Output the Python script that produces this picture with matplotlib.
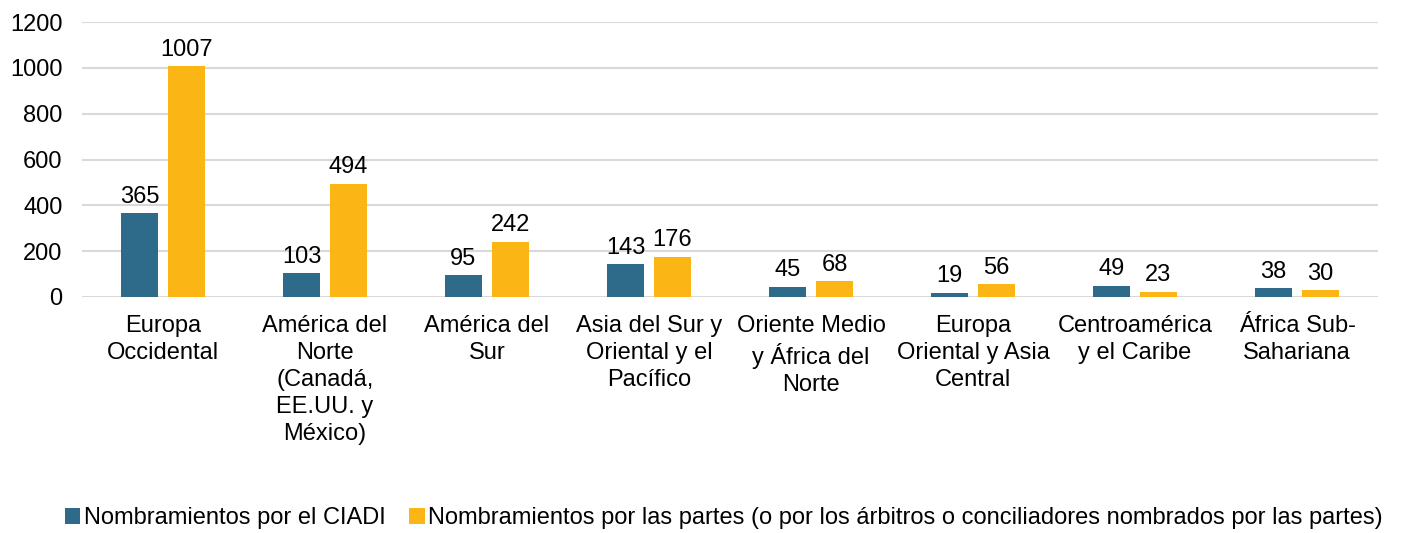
import matplotlib.pyplot as plt
import numpy as np

plt.rcParams['font.family'] = ['Liberation Sans', 'DejaVu Sans']

categories = ["Europa\nOccidental",
              "América del\nNorte\n(Canadá,\nEE.UU. y\nMéxico)",
              "América del\nSur",
              "Asia del Sur y\nOriental y el\nPacífico",
              "Oriente Medio\ny África del\nNorte",
              "Europa\nOriental y Asia\nCentral",
              "Centroamérica\ny el Caribe",
              "África Sub-\nSahariana"]
ciadi = [365, 103, 95, 143, 45, 19, 49, 38]
partes = [1007, 494, 242, 176, 68, 56, 23, 30]
series_names = ["Nombramientos por el CIADI",
                "Nombramientos por las partes (o por los árbitros o conciliadores nombrados por las partes)"]
colors = ["#2E6B8A", "#FBB616"]

fs = 17

fig = plt.figure(figsize=(14.11, 5.33), dpi=100)
ax = fig.add_axes([0.0581, 0.4428, 0.9185, 0.5159])

x = np.arange(len(categories))
w = 0.225
off = 0.145
b1 = ax.bar(x - off, ciadi, w, color=colors[0], label=series_names[0], zorder=3)
b2 = ax.bar(x + off, partes, w, color=colors[1], label=series_names[1], zorder=3)

for bars, vals in ((b1, ciadi), (b2, partes)):
    for r, v in zip(bars, vals):
        ax.annotate(str(v), (r.get_x() + r.get_width() / 2, v), xytext=(0, 4),
                    textcoords='offset points', ha='center', va='bottom', fontsize=fs)

ax.set_xlim(-0.5, len(categories) - 0.5)
ax.set_ylim(0, 1200)
ax.set_yticks(range(0, 1201, 200))
ax.set_xticks(x)
ax.set_xticklabels(categories, fontsize=fs, linespacing=1.3)
ax.tick_params(axis='y', labelsize=fs, length=0, pad=14)
ax.tick_params(axis='x', length=0, pad=13)
ax.grid(axis='y', color='#D9D9D9', linewidth=1.5, zorder=0)
for s in ax.spines.values():
    s.set_visible(False)

fig.legend(loc='lower center', bbox_to_anchor=(0.513, -0.033), ncol=2, frameon=False, fontsize=fs,
           handlelength=0.65, handleheight=0.65, handletextpad=0.15, columnspacing=1.0)

fig.savefig("out.png", dpi=100)
